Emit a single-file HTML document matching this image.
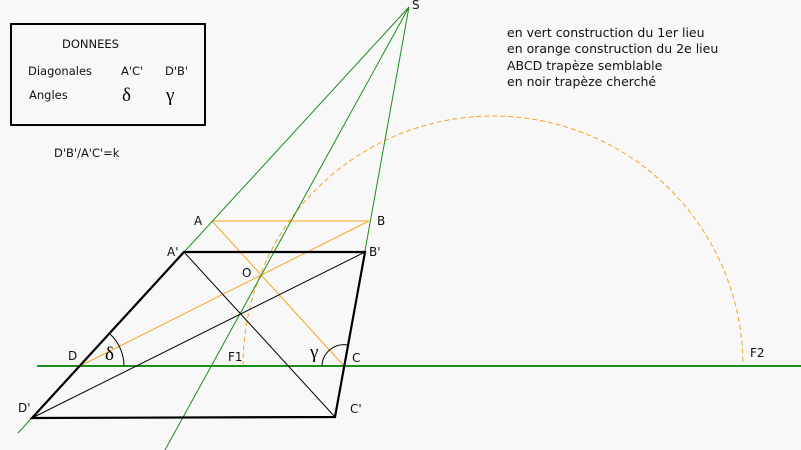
<!DOCTYPE html>
<html><head><meta charset="utf-8"><style>
html,body{margin:0;padding:0;background:#f8f8f8;}
svg{display:block;font-family:"DejaVu Sans","Liberation Sans",sans-serif;}
</style></head><body>
<svg width="801" height="450" viewBox="0 0 801 450" xmlns="http://www.w3.org/2000/svg">
<rect x="0" y="0" width="801" height="450" fill="#f8f8f8"/>
<rect x="11" y="24" width="194" height="101" fill="none" stroke="#000" stroke-width="2"/>
<g font-size="11.5" fill="#111">
<text x="62" y="48">DONNEES</text>
<text x="28" y="75">Diagonales</text>
<text x="121" y="75">A'C'</text>
<text x="165" y="75">D'B'</text>
<text x="29" y="99">Angles</text>
<text x="54" y="157">D'B'/A'C'=k</text>
</g>
<text x="122" y="101" font-size="19" font-family="Liberation Serif,serif">δ</text>
<text x="166" y="101" font-size="19" font-family="Liberation Serif,serif">γ</text>
<g font-size="12.5" fill="#111">
<text x="507" y="37">en vert construction du 1er lieu</text>
<text x="507" y="53">en orange construction du 2e lieu</text>
<text x="507" y="70">ABCD trapèze semblable</text>
<text x="507" y="86">en noir trapèze cherché</text>
</g>
<path d="M243,366 A250,250 0 0 1 743,366" fill="none" stroke="#f5a623" stroke-width="1" stroke-dasharray="5,3"/>
<g stroke="#f5a623" stroke-width="1" fill="none">
<line x1="212" y1="221" x2="369" y2="221"/>
<line x1="212" y1="221" x2="344" y2="366"/>
<line x1="369" y1="221" x2="80" y2="366"/>
</g>
<g stroke="#1a8f1a" stroke-width="1" fill="none">
<line x1="409" y1="7" x2="18" y2="433"/>
<line x1="409" y1="7" x2="165" y2="450"/>
<line x1="409" y1="7" x2="335" y2="417"/>
</g>
<line x1="37" y1="366" x2="801" y2="366" stroke="#1a8f1a" stroke-width="2"/>
<path d="M184,252 L365,252 L335,417 L32,418 Z" fill="none" stroke="#000" stroke-width="2.2"/>
<line x1="184" y1="252" x2="335" y2="417" stroke="#000" stroke-width="1"/>
<line x1="365" y1="252" x2="32" y2="418" stroke="#000" stroke-width="1"/>
<path d="M124,366 A44,44 0 0 0 110,334" fill="none" stroke="#000" stroke-width="1"/>
<path d="M322,366 A22,22 0 0 1 348,345" fill="none" stroke="#000" stroke-width="1"/>
<g font-size="12" fill="#111">
<text x="412" y="9">S</text>
<text x="194" y="225">A</text>
<text x="377" y="225">B</text>
<text x="167" y="256">A'</text>
<text x="369" y="256">B'</text>
<text x="242" y="277">O</text>
<text x="68" y="360">D</text>
<text x="228" y="361">F1</text>
<text x="352" y="362">C</text>
<text x="750" y="357">F2</text>
<text x="18" y="412">D'</text>
<text x="350" y="413">C'</text>
</g>
<text x="105" y="360" font-size="19" font-family="Liberation Serif,serif">δ</text>
<text x="310" y="358" font-size="19" font-family="Liberation Serif,serif">γ</text>
</svg>
</body></html>
